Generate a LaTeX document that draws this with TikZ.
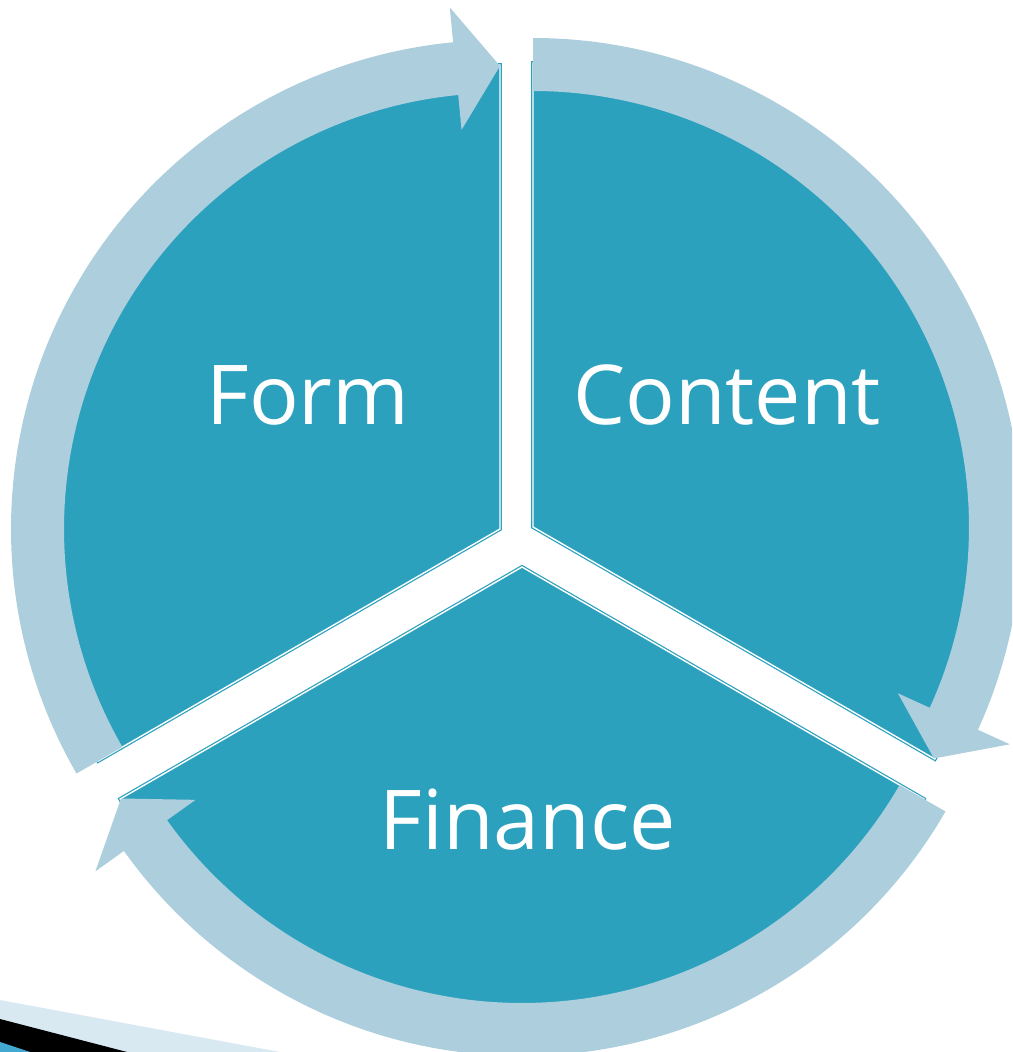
\documentclass[tikz,border=0pt]{standalone}
\usepackage{fontspec}
\setmainfont{Open Sans}
\usepackage{xcolor}
\usetikzlibrary{calc}

\definecolor{sectorteal}{RGB}{44,161,190}
\definecolor{ringblue}{RGB}{173,206,220}
\definecolor{bandblue}{RGB}{216,233,241}
\definecolor{cornerblue}{RGB}{66,168,208}

\tikzset{
    sector/.style={fill=sectorteal, draw=sectorteal, double=white, double distance=0.8pt, line width=0.7pt},
    ring/.style={fill=ringblue},
    seglabel/.style={text=white, font=\fontsize{47}{56}\selectfont, anchor=base},
}

\begin{document}
\begin{tikzpicture}[x=0.02cm, y=0.02cm]
    \clip (0,0) rectangle (1012,1052);

    % Slide corner bands
    \fill[bandblue] (0,0) -- (0,52) -- (280,0) -- cycle;
    \fill[black] (0,0) -- (0,33) -- (127,0) -- cycle;
    \fill[cornerblue] (0,0) -- (0,10) -- (30,0) -- cycle;

    % Sector tips (exploded pie)
    \coordinate (fc) at (500,523);
    \coordinate (cc) at (533,525);
    \coordinate (nc) at (522,485);

    % Sectors (outer rim hidden under the arrows)
    \draw[sector] (fc) -- ++(90:464) arc[start angle=90, end angle=210, radius=464] -- cycle;
    \draw[sector] (cc) -- ++(-30:464) arc[start angle=-30, end angle=90, radius=464] -- cycle;
    \draw[sector] (nc) -- ++(210:464) arc[start angle=210, end angle=330, radius=464] -- cycle;

    % Cycle arrows
    \foreach \c/\a/\b in {fc/210/90, cc/90/-30, nc/330/210} {
        \fill[ring] ($(\c)+(\a:489)$) arc[start angle=\a, end angle={\b+5.5}, radius=489]
            -- ($(\c)+({\b+5.5}:524)$) -- ($(\c)+(\b:463)$) -- ($(\c)+({\b+5.5}:401)$)
            -- ($(\c)+({\b+5.5}:436)$) arc[start angle={\b+5.5}, end angle=\a, radius=436] -- cycle;
    }

    % Labels
    \node[seglabel] (form) at (308,627) {Form};
    \node[seglabel] (content) at (727,627) {Content};
    \node[seglabel] (finance) at (528,202) {Finance};
\end{tikzpicture}
\end{document}
